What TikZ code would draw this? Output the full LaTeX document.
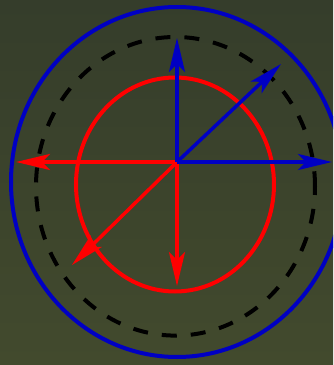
\documentclass[tikz,border=0pt]{standalone}
\usetikzlibrary{arrows.meta}
\definecolor{bgtop}{RGB}{53,61,43}
\definecolor{bgbot}{RGB}{66,74,45}
\definecolor{vblue}{RGB}{0,0,195}
\definecolor{vred}{RGB}{255,0,0}
\tikzset{
  vec/.style={line width=3.5pt, -{Stealth[length=34pt,width=16pt,inset=8pt]}},
  ring/.style={line width=4pt},
}
\begin{document}
\begin{tikzpicture}[x=1pt,y=1pt]
\useasboundingbox (0,0) rectangle (333,365);
\shade[top color=bgtop,bottom color=bgbot] (0,0) rectangle (333,365);
\clip (0,0) rectangle (333,365);
\coordinate (O) at (177,203);
\coordinate (up) at (177,327);
\coordinate (ur) at (281,301);
\coordinate (rt) at (332,203);
\coordinate (lt) at (16,203);
\coordinate (dn) at (177,79);
\coordinate (dl) at (72,100);
\draw[ring, vblue] (177,183) ellipse [x radius=166, y radius=175];
\draw[ring, black, dash pattern=on 15pt off 14pt] (175.5,178.7) ellipse [x radius=139.5, y radius=149.3];
\draw[ring, vred] (175,180.5) ellipse [x radius=99, y radius=107];
\draw[vec, vred] (O) -- (lt);
\draw[vec, vred] (O) -- (dn);
\draw[vec, vred] (O) -- (dl);
\draw[vec, vblue] (O) -- (up);
\draw[vec, vblue] (O) -- (ur);
\draw[vec, vblue] (O) -- (rt);
\end{tikzpicture}
\end{document}
